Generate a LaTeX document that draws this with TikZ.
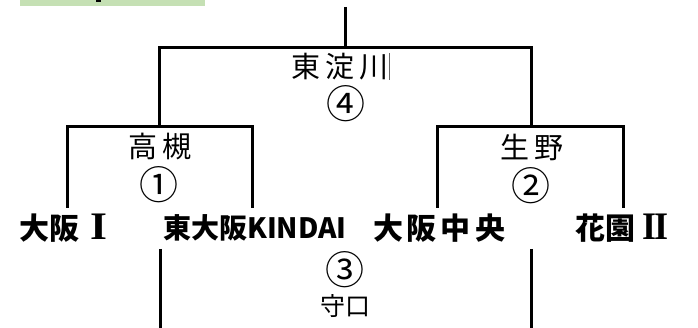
\documentclass[tikz,border=0pt]{standalone}
\usepackage{fontspec}
\setmainfont{Noto Sans CJK JP}
\newfontfamily\romanfont{Liberation Serif}
\definecolor{boxgreen}{RGB}{197,224,180}
\tikzset{
  br/.style={line width=3pt, line join=miter, line cap=rect},
  mid/.style={font=\fontsize{29}{32}\selectfont, inner sep=0pt},
  num/.style={font=\fontsize{39}{42}\selectfont, inner sep=0pt},
  team/.style={font=\fontsize{30}{34}\selectfont\bfseries, inner sep=0pt},
  small/.style={font=\fontsize{25}{28}\selectfont, inner sep=0pt}
}
\newcommand\romI{{\romanfont\bfseries\scalebox{1.45}[1.3]{I}}}
\newcommand\romII{{\romanfont\bfseries\scalebox{1.2}[1.3]{I\kern-1.5ptI}}}
\begin{document}
\begin{tikzpicture}[x=1pt,y=-1pt]
\useasboundingbox (0,0) rectangle (698,328);
% green header box
\fill[boxgreen] (20,0) rectangle (205,6);
\fill[black] (96,0) rectangle (101,2);
% coordinates
\coordinate (top) at (345,7);
\coordinate (tj) at (345,48);
\coordinate (L) at (159,48);
\coordinate (R) at (531,48);
\coordinate (Lb) at (159,127);
\coordinate (Rb) at (531,127);
\coordinate (a1) at (67,127);
\coordinate (a2) at (252,127);
\coordinate (a1d) at (67,207);
\coordinate (a2d) at (252,207);
\coordinate (b1) at (437,127);
\coordinate (b2) at (623,127);
\coordinate (b1d) at (437,207);
\coordinate (b2d) at (623,207);
\coordinate (c1) at (160,249);
\coordinate (c1d) at (160,330);
\coordinate (c2) at (531,249);
\coordinate (c2d) at (531,330);
% lines
\draw[br,line cap=butt] (top) -- (tj);
\draw[br] (Lb) -- (L) -- (R) -- (Rb);
\draw[br] (a1d) -- (a1) -- (a2) -- (a2d);
\draw[br] (b1d) -- (b1) -- (b2) -- (b2d);
\draw[br,line cap=butt] (c1) -- (c1d);
\draw[br,line cap=butt] (c2) -- (c2d);
% texts
\node[mid] (hy) at (340,67) {東\hspace{5pt}淀\hspace{5pt}川};
\coordinate (bar1) at (389,53);
\coordinate (bar2) at (389,80);
\draw[line width=1pt, black!60] (bar1) -- (bar2);
\node[num] (n4) at (346,104) {④};
\node[mid] (tk) at (160,147) {高\hspace{6pt}槻};
\node[num] (n1) at (159,185) {①};
\node[mid] (ik) at (532,147) {生\hspace{6pt}野};
\node[num] (n2) at (531,186) {②};
\node[team] (t1) at (63,228) {大阪\hspace{11pt}\romI};
\node[team, font=\fontsize{28}{31}\selectfont\bfseries] (t2) at (255,228) {東大阪KINDAI};
\node[team] (t3) at (439,228) {大\hspace{4pt}阪\hspace{4pt}中\hspace{4pt}央};
\node[team] (t4) at (622,228) {花園\hspace{7pt}\romII};
\node[num] (n3) at (345,270) {③};
\node[small] (mk) at (345,306) {守口};
\end{tikzpicture}
\end{document}
